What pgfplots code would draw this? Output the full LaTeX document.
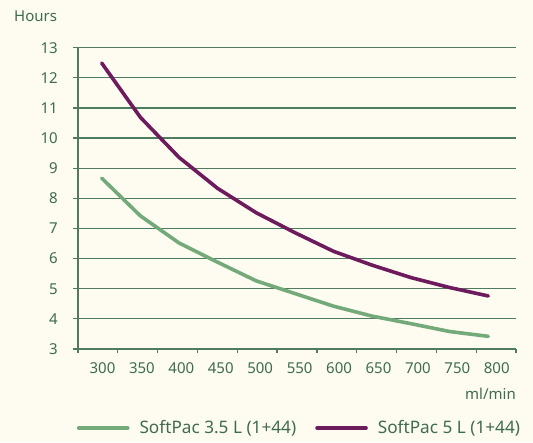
\documentclass[border=0pt]{standalone}
\usepackage{fontspec}
\setmainfont{Noto Sans}
\usepackage{pgfplots}
\pgfplotsset{compat=1.18}
\definecolor{bg}{HTML}{FEFCF1}
\definecolor{txt}{HTML}{3F6B4F}
\definecolor{gridc}{HTML}{4F7B5F}
\definecolor{sgreen}{HTML}{74A97A}
\definecolor{spurple}{HTML}{6D1B5C}
\newcommand{\lbl}{\fontsize{15}{17}\selectfont}
\newcommand{\leg}{\fontsize{17.2}{19}\selectfont}

\begin{document}
\begin{tikzpicture}[x=1pt,y=1pt]
\fill[bg] (0,0) rectangle (533,442);
\useasboundingbox (0,0) rectangle (533,442);
\begin{axis}[
  at={(78pt,93pt)}, anchor=south west,
  scale only axis, width=438pt, height=301.3pt,
  xmin=269.35, xmax=835.85, ymin=3, ymax=13,
  axis lines*=left,
  axis line style={gridc, line width=1.2pt, -},
  ytick={3,4,...,13},
  ymajorgrids,
  grid style={gridc, line width=1.2pt},
  xtick={301,352,403,454,505,556,607,658,709,760,811},
  xticklabels={300,350,400,450,500,550,600,650,700,750,800},
  minor xtick={269.35,320.85,372.35,423.85,475.35,526.85,578.35,629.85,681.35,732.85,784.35,835.85},
  major x tick style={draw=none},
  tick align=outside,
  major tick length=5pt, minor tick length=4pt,
  tick style={gridc, line width=1.2pt},
  tick label style={font=\lbl, text=txt},
  /pgf/number format/assume math mode=true,
  yticklabel style={anchor=east, inner sep=0pt, xshift=-15pt},
  xticklabel style={anchor=north, inner sep=0pt, yshift=-8pt},
  clip=false,
  legend columns=2,
  legend style={at={(0.5057,-0.2622)}, anchor=center, draw=none, fill=none,
    font=\leg, text=txt, inner sep=0pt,
    /tikz/every odd column/.append style={column sep=8pt},
    /tikz/every even column/.append style={column sep=17pt}},
  legend cell align=left,
  legend image code/.code={\draw[#1] (0pt,0pt) -- (49pt,0pt);},
]
\addplot[sgreen, line width=3.6pt, line cap=round, line join=round] coordinates {
  (300,8.67)(350,7.42)(400,6.52)(450,5.88)(500,5.26)(550,4.84)
  (600,4.42)(650,4.09)(700,3.84)(750,3.58)(800,3.42)};
\addlegendentry{SoftPac 3.5 L (1+44)}
\addplot[spurple, line width=3.6pt, line cap=round, line join=round] coordinates {
  (300,12.49)(350,10.69)(400,9.36)(450,8.33)(500,7.52)(550,6.86)
  (600,6.24)(650,5.78)(700,5.37)(750,5.04)(800,4.76)};
\addlegendentry{SoftPac 5 L (1+44)}
\end{axis}
\node[anchor=base west, text=txt, inner sep=0pt, font=\lbl] at (14,420.5) {Hours};
\node[anchor=east, text=txt, inner sep=0pt, font=\lbl] at (516,48) {ml/min};
\end{tikzpicture}
\end{document}
